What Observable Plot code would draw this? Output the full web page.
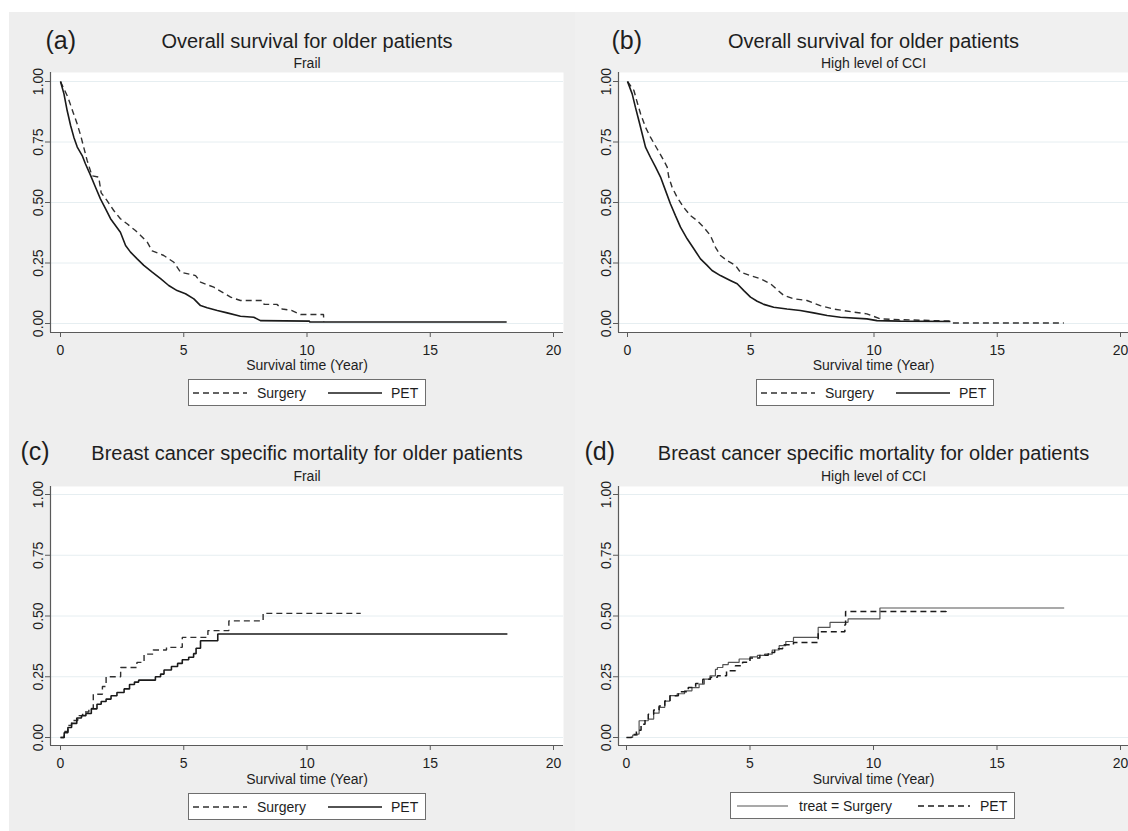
<!DOCTYPE html>
<html>
<head>
<meta charset="utf-8">
<script src="https://cdn.jsdelivr.net/npm/d3@7"></script>
<script src="https://cdn.jsdelivr.net/npm/@observablehq/plot@0.6"></script>
<style>
  html, body { margin: 0; padding: 0; background: #ffffff; }
  body { width: 1128px; height: 831px; position: relative; overflow: hidden;
         font-family: "Liberation Sans", Arial, Helvetica, sans-serif; }
  .panel { position: absolute; }
  .panel svg.plot { position: absolute; left: 0; top: 0; }
  .legend { position: absolute; box-sizing: border-box; border: 1px solid #6e6e6e; background: #ffffff; }
</style>
</head>
<body>
<script>
// ---------------- text ----------------
const xTicks = [0, 5, 10, 15, 20];
const yTicks = [0, 0.25, 0.5, 0.75, 1];
const xLabel = "Survival time (Year)";
const panelTags = ["(a)", "(b)", "(c)", "(d)"];
const panelTitles = [
  "Overall survival for older patients",
  "Overall survival for older patients",
  "Breast cancer specific mortality for older patients",
  "Breast cancer specific mortality for older patients"
];
const panelSubtitles = ["Frail", "High level of CCI", "Frail", "High level of CCI"];
const legendLabels = [
  ["Surgery", "PET"],
  ["Surgery", "PET"],
  ["Surgery", "PET"],
  ["treat = Surgery", "PET"]
];

// ---------------- data ----------------
// (a) Overall survival, frail
const aSurgeryT = [0, 0.3, 0.52, 0.66, 0.81, 1.08, 1.28, 1.55, 1.65, 1.89, 2.16, 2.43, 2.7, 3.04, 3.25, 3.52, 3.72, 4.19, 4.6, 4.87, 5.48, 5.68, 6.22, 6.9, 7.3, 8.19, 8.26, 8.78, 8.99, 9.37, 9.74, 10.67, 10.68];
const aSurgeryS = [1, 0.935, 0.87, 0.83, 0.78, 0.674, 0.61, 0.605, 0.54, 0.508, 0.467, 0.433, 0.412, 0.384, 0.364, 0.336, 0.30, 0.281, 0.253, 0.212, 0.198, 0.171, 0.15, 0.109, 0.095, 0.095, 0.079, 0.079, 0.06, 0.054, 0.037, 0.037, 0.006];
const aPetT = [0, 0.14, 0.27, 0.41, 0.54, 0.68, 0.88, 1.01, 1.22, 1.42, 1.62, 1.83, 2.03, 2.23, 2.43, 2.64, 2.84, 3.11, 3.38, 3.72, 4.06, 4.39, 4.73, 5.07, 5.41, 5.68, 5.95, 6.36, 6.76, 7.3, 7.84, 8.11, 10.1, 10.11, 18.1];
const aPetS = [1, 0.949, 0.88, 0.818, 0.77, 0.729, 0.694, 0.66, 0.612, 0.563, 0.515, 0.474, 0.433, 0.405, 0.377, 0.322, 0.295, 0.267, 0.24, 0.212, 0.185, 0.157, 0.136, 0.123, 0.102, 0.074, 0.065, 0.054, 0.044, 0.03, 0.026, 0.012, 0.01, 0.006, 0.006];

// (b) Overall survival, high CCI
const bSurgeryT = [0, 0.26, 0.39, 0.53, 0.73, 0.93, 1.2, 1.47, 1.61, 1.675, 1.81, 2.01, 2.28, 2.55, 2.82, 3.09, 3.36, 3.57, 3.77, 4.04, 4.38, 4.58, 4.99, 5.39, 5.8, 6.34, 6.75, 7.28, 7.82, 8.36, 9.17, 9.71, 10.26, 11.07, 13.1, 13.2, 17.7];
const bSurgeryS = [1, 0.963, 0.915, 0.867, 0.811, 0.77, 0.722, 0.674, 0.646, 0.605, 0.563, 0.522, 0.48, 0.446, 0.426, 0.398, 0.364, 0.315, 0.281, 0.26, 0.24, 0.212, 0.198, 0.185, 0.164, 0.116, 0.102, 0.095, 0.074, 0.06, 0.047, 0.04, 0.019, 0.016, 0.01, 0.002, 0.002];
const bPetT = [0, 0.19, 0.32, 0.46, 0.595, 0.73, 0.93, 1.14, 1.34, 1.54, 1.74, 1.945, 2.15, 2.42, 2.69, 2.96, 3.23, 3.43, 3.77, 4.17, 4.45, 4.72, 4.99, 5.26, 5.53, 5.93, 6.47, 7.01, 7.55, 8.1, 8.64, 9.71, 10.12, 11.07, 13.1];
const bPetS = [1, 0.949, 0.894, 0.839, 0.784, 0.729, 0.687, 0.646, 0.605, 0.55, 0.495, 0.446, 0.398, 0.35, 0.309, 0.267, 0.24, 0.219, 0.198, 0.178, 0.164, 0.136, 0.109, 0.092, 0.079, 0.067, 0.06, 0.054, 0.044, 0.033, 0.026, 0.019, 0.012, 0.01, 0.008];

// (c) Breast cancer specific mortality, frail (step functions)
const cSurgeryT = [0, 0.15, 0.3, 0.45, 0.7, 0.9, 1.15, 1.33, 1.7, 1.85, 2.44, 3.1, 3.39, 3.76, 4.3, 4.94, 5.98, 6.83, 8.22, 12.18];
const cSurgeryS = [0, 0.025, 0.05, 0.07, 0.09, 0.105, 0.12, 0.178, 0.21, 0.25, 0.288, 0.309, 0.343, 0.36, 0.371, 0.412, 0.44, 0.48, 0.511, 0.511];
const cPetT = [0, 0.15, 0.3, 0.45, 0.66, 0.85, 1.03, 1.25, 1.48, 1.65, 1.85, 2.05, 2.29, 2.58, 2.8, 3.0, 3.17, 3.85, 4.06, 4.2, 4.5, 4.75, 4.94, 5.2, 5.4, 5.5, 5.68, 6.38, 18.13];
const cPetS = [0, 0.02, 0.041, 0.058, 0.08, 0.09, 0.099, 0.118, 0.137, 0.148, 0.158, 0.172, 0.185, 0.2, 0.218, 0.228, 0.236, 0.25, 0.261, 0.278, 0.292, 0.305, 0.32, 0.33, 0.345, 0.367, 0.398, 0.426, 0.426];

// (d) Breast cancer specific mortality, high CCI (step functions)
const dSurgeryT = [0, 0.25, 0.44, 0.51, 0.88, 1.1, 1.32, 1.55, 1.76, 2.05, 2.35, 2.65, 2.94, 3.15, 3.38, 3.6, 3.68, 3.9, 4.12, 4.56, 5.0, 5.3, 5.59, 5.9, 6.18, 6.45, 6.76, 7.76, 8.24, 8.97, 10.26, 17.72];
const dSurgeryS = [0, 0.01, 0.014, 0.069, 0.076, 0.1, 0.124, 0.15, 0.172, 0.18, 0.192, 0.205, 0.22, 0.24, 0.254, 0.28, 0.288, 0.3, 0.309, 0.323, 0.332, 0.338, 0.343, 0.36, 0.378, 0.395, 0.412, 0.453, 0.474, 0.488, 0.533, 0.533];
const dPetT = [0, 0.2, 0.4, 0.59, 0.75, 0.88, 1.1, 1.32, 1.55, 1.76, 2.1, 2.5, 2.8, 3.09, 3.4, 3.68, 4.05, 4.41, 4.7, 5.0, 5.4, 5.74, 6.0, 6.32, 6.76, 7.76, 8.84, 8.87, 12.94];
const dPetS = [0, 0.012, 0.03, 0.055, 0.075, 0.096, 0.113, 0.13, 0.15, 0.172, 0.188, 0.206, 0.222, 0.24, 0.248, 0.254, 0.275, 0.295, 0.31, 0.327, 0.338, 0.35, 0.365, 0.382, 0.391, 0.435, 0.464, 0.519, 0.522];

// ---------------- styles / layout ----------------
const dashStyle = "6,4";
const gridColor = "#e6eef1";
const axisColor = "#5a5a5a";
const textColor = "#1e1e1e";

const panelSeries = [
  [ {t: aSurgeryT, s: aSurgeryS, dash: dashStyle, stroke: "#303030", width: 1.4, curve: "linear"},
    {t: aPetT, s: aPetS, dash: null, stroke: "#1a1a1a", width: 1.6, curve: "linear"} ],
  [ {t: bSurgeryT, s: bSurgeryS, dash: dashStyle, stroke: "#303030", width: 1.4, curve: "linear"},
    {t: bPetT, s: bPetS, dash: null, stroke: "#1a1a1a", width: 1.6, curve: "linear"} ],
  [ {t: cSurgeryT, s: cSurgeryS, dash: dashStyle, stroke: "#303030", width: 1.4, curve: "step-after"},
    {t: cPetT, s: cPetS, dash: null, stroke: "#1a1a1a", width: 1.6, curve: "step-after"} ],
  [ {t: dSurgeryT, s: dSurgeryS, dash: null, stroke: "#555555", width: 1.2, curve: "step-after"},
    {t: dPetT, s: dPetS, dash: dashStyle, stroke: "#1a1a1a", width: 1.5, curve: "step-after"} ]
];

const layout = [
  {left: 9,   top: 12,  w: 566, h: 403, bg: "#eeeeee", fl: 50,  fr: 563,  ft: 72,  fb: 332, x0: 60,  x20: 553,  y1: 81,  y0: 323,
   tagX: 45,  tagY: 48,  titleY: 47,  subY: 67,  labelY: 369,
   legend: {x: 188, y: 379, w: 238, items: [{x1: 5, x2: 59, tx: 69}, {x1: 140, x2: 194, tx: 203}]}},
  {left: 575, top: 12,  w: 553, h: 403, bg: "#f0f0f0", fl: 618, fr: 1128, ft: 72,  fb: 332, x0: 627, x20: 1120, y1: 81,  y0: 323,
   tagX: 611, tagY: 48,  titleY: 47,  subY: 67,  labelY: 369,
   legend: {x: 756, y: 379, w: 238, items: [{x1: 5, x2: 59, tx: 69}, {x1: 140, x2: 194, tx: 203}]}},
  {left: 9,   top: 415, w: 566, h: 416, bg: "#eeeeee", fl: 50,  fr: 563,  ft: 486, fb: 745, x0: 60,  x20: 553,  y1: 494, y0: 737,
   tagX: 20,  tagY: 459, titleY: 459, subY: 480, labelY: 783,
   legend: {x: 188, y: 793, w: 238, items: [{x1: 5, x2: 59, tx: 69}, {x1: 140, x2: 194, tx: 203}]}},
  {left: 575, top: 415, w: 553, h: 416, bg: "#f0f0f0", fl: 618, fr: 1128, ft: 486, fb: 745, x0: 626, x20: 1120, y1: 494, y0: 737,
   tagX: 584, tagY: 459, titleY: 459, subY: 480, labelY: 783,
   legend: {x: 730, y: 792, w: 285, items: [{x1: 7, x2: 58, tx: 69}, {x1: 188, x2: 240, tx: 250}]}}
];

function makePanel(i) {
  const L = layout[i];
  const k = 20 / (L.x20 - L.x0);
  const xDomain = [(L.fl - L.x0) * k, (L.fr - L.x0) * k];
  const m = 1 / (L.y0 - L.y1);
  const yDomain = [(L.y0 - L.fb) * m, (L.y0 - L.ft) * m];

  const div = document.createElement("div");
  div.className = "panel";
  Object.assign(div.style, {left: L.left + "px", top: L.top + "px", width: L.w + "px", height: L.h + "px", background: L.bg});

  const lines = panelSeries[i].map(sr =>
    Plot.line(sr.t, {
      x: sr.t, y: sr.s, curve: sr.curve,
      stroke: sr.stroke, strokeWidth: sr.width,
      strokeDasharray: sr.dash || undefined,
      strokeLinejoin: "miter", strokeLinecap: "butt"
    })
  );

  const svg = Plot.plot({
    width: L.w, height: L.h,
    marginLeft: L.fl - L.left,
    marginRight: L.left + L.w - L.fr,
    marginTop: L.ft - L.top,
    marginBottom: L.top + L.h - L.fb,
    x: {domain: xDomain},
    y: {domain: yDomain},
    style: {background: "transparent", fontFamily: '"Liberation Sans", Arial, sans-serif', fontSize: "14px", color: textColor, overflow: "visible"},
    marks: [
      Plot.frame({fill: "white", stroke: "none"}),
      Plot.ruleY(yTicks, {y: d => d, stroke: gridColor, strokeWidth: 1}),
      ...lines,
      Plot.ruleX([xDomain[0]], {x: d => d, stroke: axisColor, strokeWidth: 1.2}),
      Plot.ruleY([yDomain[0]], {y: d => d, stroke: axisColor, strokeWidth: 1.2}),
      Plot.axisX(xTicks, {tickSize: 5, tickPadding: 8, stroke: axisColor, fill: textColor, label: null, fontSize: 14}),
      Plot.axisY(yTicks, {tickSize: 5, tickPadding: 3, tickRotate: -90, tickFormat: d3.format(".2f"), stroke: axisColor, fill: textColor, label: null, fontSize: 14}),
      Plot.text([xLabel], {text: d => d, frameAnchor: "bottom", dy: L.labelY - L.fb, lineAnchor: "bottom", fontSize: 14, fill: textColor}),
      Plot.text([panelTitles[i]], {text: d => d, frameAnchor: "top", dy: L.titleY - L.ft, lineAnchor: "bottom", fontSize: 20, fill: textColor}),
      Plot.text([panelSubtitles[i]], {text: d => d, frameAnchor: "top", dy: L.subY - L.ft, lineAnchor: "bottom", fontSize: 14, fill: textColor}),
      Plot.text([panelTags[i]], {text: d => d, frameAnchor: "top-left", dx: L.tagX - L.fl, dy: L.tagY - L.ft, textAnchor: "start", lineAnchor: "bottom", fontSize: 25, fill: textColor})
    ]
  });
  svg.classList.add("plot");
  div.appendChild(svg);
  document.body.appendChild(div);

  // legend box
  const G = L.legend;
  const lg = document.createElement("div");
  lg.className = "legend";
  Object.assign(lg.style, {left: G.x + "px", top: G.y + "px", width: G.w + "px", height: "27px"});
  const ns = "http://www.w3.org/2000/svg";
  const ls = document.createElementNS(ns, "svg");
  ls.setAttribute("width", G.w);
  ls.setAttribute("height", 27);
  Object.assign(ls.style, {position: "absolute", left: "-1px", top: "-1px", overflow: "visible"});
  panelSeries[i].forEach((sr, j) => {
    const it = G.items[j];
    const ln = document.createElementNS(ns, "line");
    ln.setAttribute("x1", it.x1); ln.setAttribute("x2", it.x2);
    ln.setAttribute("y1", 14); ln.setAttribute("y2", 14);
    ln.setAttribute("stroke", sr.stroke);
    ln.setAttribute("stroke-width", sr.width);
    if (sr.dash) ln.setAttribute("stroke-dasharray", sr.dash);
    ls.appendChild(ln);
    const tx = document.createElementNS(ns, "text");
    tx.setAttribute("x", it.tx); tx.setAttribute("y", 19);
    tx.setAttribute("font-size", 14);
    tx.setAttribute("fill", textColor);
    tx.setAttribute("font-family", '"Liberation Sans", Arial, sans-serif');
    tx.textContent = legendLabels[i][j];
    ls.appendChild(tx);
  });
  lg.appendChild(ls);
  document.body.appendChild(lg);
}

for (let i = 0; i < 4; i++) makePanel(i);
</script>
</body>
</html>
